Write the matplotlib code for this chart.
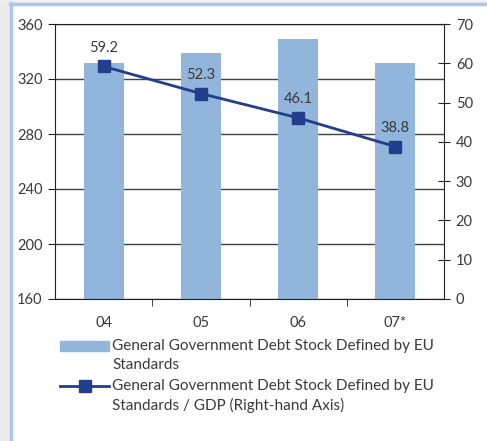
import matplotlib.pyplot as plt
import numpy as np
from matplotlib.patches import Rectangle
from matplotlib.lines import Line2D

years = ["04", "05", "06", "07*"]
debt_stock = [331.5, 339, 349, 332]
debt_to_gdp = [59.2, 52.3, 46.1, 38.8]

bar_label = "General Government Debt Stock Defined by EU\nStandards"
line_label = "General Government Debt Stock Defined by EU\nStandards / GDP (Right-hand Axis)"

bar_color = "#92b5db"
line_color = "#213f8d"
text_color = "#3a3a3a"

plt.rcParams["font.family"] = ["Lato", "DejaVu Sans"]
plt.rcParams["font.size"] = 10.5

W, H = 487, 441
fig = plt.figure(figsize=(W / 100, H / 100), dpi=100)
fig.patch.set_facecolor("white")


def fx(px):
    return px / W


def fy(py):
    return 1 - py / H


# frame around the chart
fig.patches.append(Rectangle((0, 0), fx(10), 1, transform=fig.transFigure,
                             color="#ebebeb", zorder=0))
fig.patches.append(Rectangle((0, fy(2)), 1, 2 / H, transform=fig.transFigure,
                             color="#f0f0f0", zorder=0))
fig.lines.append(Line2D([fx(11), fx(11)], [0, fy(3)], transform=fig.transFigure,
                        color="#a9c9ec", lw=2.5))
fig.lines.append(Line2D([fx(10), 1], [fy(3.5), fy(3.5)], transform=fig.transFigure,
                        color="#a9c9ec", lw=2.5))

ax = fig.add_axes([fx(55), 142 / H, 389 / W, 275 / H])
x = np.arange(len(years))
ax.bar(x, debt_stock, width=0.41, color=bar_color, zorder=2)
ax.set_xlim(-0.5, len(years) - 0.5)
ax.set_ylim(160, 360)
ax.set_yticks(np.arange(160, 361, 40))
ax.yaxis.grid(True, color="#404040", lw=1, zorder=1)
ax.set_axisbelow(True)
ax.set_xticks(x)
ax.set_xticklabels(years)
ax.set_xticks(np.arange(0.5, len(years) - 0.5, 1), minor=True)
ax.tick_params(axis="x", which="major", length=0, pad=12, colors=text_color)
ax.tick_params(axis="x", which="minor", length=5, direction="out", color="#202020")
ax.tick_params(axis="y", length=5, direction="out", colors=text_color, pad=4)
ax.tick_params(axis="y", color="#202020")
for side in ["left", "bottom", "top"]:
    ax.spines[side].set_color("#202020")
ax.spines["right"].set_visible(False)

ax2 = ax.twinx()
ax2.plot(x, debt_to_gdp, color=line_color, lw=2, marker="s", markersize=9, zorder=3)
ax2.set_ylim(0, 70)
ax2.set_yticks(np.arange(0, 71, 10))
ax2.tick_params(axis="y", direction="inout", length=9, colors=text_color, pad=4)
ax2.tick_params(axis="y", color="#202020")
ax2.spines["right"].set_color("#202020")
for side in ["left", "bottom", "top"]:
    ax2.spines[side].set_visible(False)

for xi, v in zip(x, debt_to_gdp):
    ax2.annotate(f"{v:.1f}", (xi, v), xytext=(0, 13.5), textcoords="offset points",
                 ha="center", va="center", color=text_color)

# legend below the plot, keys aligned with the first text line
fig.patches.append(Rectangle((fx(60), fy(351)), fx(109) - fx(60), 10 / H,
                             transform=fig.transFigure, color=bar_color))
fig.lines.append(Line2D([fx(60), fx(109)], [fy(386), fy(386)], transform=fig.transFigure,
                        color=line_color, lw=2))
fig.lines.append(Line2D([fx(84.5)], [fy(386)], transform=fig.transFigure,
                        color=line_color, marker="s", markersize=9))
for label, top in [(bar_label, 339), (line_label, 379)]:
    fig.text(fx(112), fy(top), label, ha="left", va="top", fontsize=11,
             linespacing=1.45, color=text_color)

fig.savefig("out.png", dpi=100)
